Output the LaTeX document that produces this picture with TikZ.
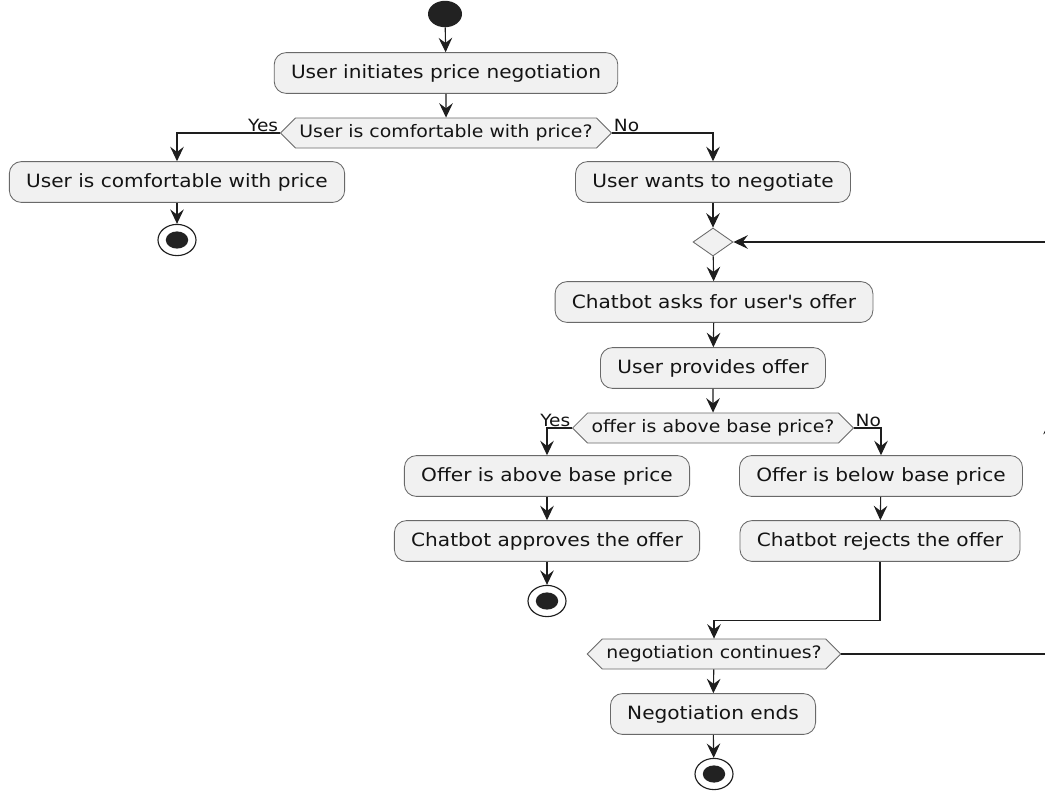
\documentclass[tikz,border=0pt]{standalone}
\usepackage{fontspec}
\setmainfont{DejaVu Sans}[FakeStretch=1.1]
\usetikzlibrary{arrows.meta, shapes.geometric, shapes.symbols, positioning}

\definecolor{actfill}{RGB}{241,241,241}
\definecolor{actstroke}{RGB}{105,105,105}
\definecolor{flowline}{RGB}{30,30,30}
\definecolor{dotfill}{RGB}{34,34,34}
\definecolor{textdark}{RGB}{20,20,20}

\tikzset{
  action/.style={
    rectangle, rounded corners=0.3cm,
    minimum height=1.02cm, inner xsep=0.42cm,
    draw=actstroke, fill=actfill, line width=0.6pt,
    text=textdark, font=\fontsize{13}{15}\selectfont
  },
  decision/.style={
    signal, signal to=west and east,
    minimum height=0.75cm, inner xsep=0.1cm,
    draw=actstroke, fill=actfill, line width=0.6pt,
    text=textdark, font=\fontsize{12.2}{14}\selectfont
  },
  merge/.style={diamond, draw=actstroke, fill=actfill, line width=0.6pt,
    minimum width=1cm, minimum height=0.7cm, inner sep=0pt},
  startdot/.style={ellipse, fill=dotfill, minimum width=0.85cm, minimum height=0.66cm, inner sep=0pt},
  enddot/.style={ellipse, draw=flowline, fill=white, line width=0.8pt,
    minimum width=0.95cm, minimum height=0.78cm, inner sep=0pt,
    path picture={\fill[dotfill] (path picture bounding box.center) ellipse (0.28cm and 0.215cm);}},
  branch/.style={font=\fontsize{12}{14}\selectfont, text=textdark, inner sep=1pt},
  arrow/.style={-{Stealth[length=0.36cm,width=0.34cm,inset=0.13cm]}, line width=0.8pt, color=flowline},
  flow/.style={line width=0.8pt, color=flowline},
}

\begin{document}
\begin{tikzpicture}[x=0.025cm, y=-0.025cm]

\fill[white] (0,0) rectangle (1045,791);
\useasboundingbox (0,0) rectangle (1045,791);

%% ─── START ─────────────────────────────────────────────────
\node[startdot] (start) at (445,14) {};
\node[action] (initiate) at (446,73) {User initiates price negotiation};
\node[decision] (comfort) at (446,133) {User is comfortable with price?};

%% ─── YES / NO ───────────────────────────────────────────────
\node[action] (happy) at (177,182) {User is comfortable with price};
\node[enddot] (end1) at (177,240) {};

\node[action] (wants) at (713,182) {User wants to negotiate};
\node[merge] (loop) at (713,242) {};

%% ─── OFFER ─────────────────────────────────────────────────
\node[action] (asks) at (714,302) {Chatbot asks for user\textquotesingle s offer};
\node[action] (provides) at (713,368) {User provides offer};
\node[decision] (above) at (713,428) {offer is above base price?};

\node[action] (isabove) at (547,476) {Offer is above base price};
\node[action] (approves) at (547,541) {Chatbot approves the offer};
\node[enddot] (end2) at (547,601) {};

\node[action] (isbelow) at (881,476) {Offer is below base price};
\node[action] (rejects) at (880,541) {Chatbot rejects the offer};

%% ─── CONTINUE? ─────────────────────────────────────────────
\node[decision] (continues) at (714,654) {negotiation continues?};
\node[action] (ends) at (713,714) {Negotiation ends};
\node[enddot] (end3) at (714,774) {};

%% branch labels
\node[branch, anchor=south east] (yes1) at (comfort.west) {Yes};
\node[branch, anchor=south west] (no1) at (comfort.east) {No};
\node[branch, anchor=south east] (yes2) at (above.west) {Yes};
\node[branch, anchor=south west] (no2) at (above.east) {No};

%% back loop coordinates
\coordinate (backmid) at (1050,420);
\coordinate (backtop) at (1050,242);

%% ─── ARROWS ─────────────────────────────────────────────────
\draw[arrow] (start) -- (initiate);
\draw[arrow] (initiate) -- (comfort);
\draw[arrow] (comfort.west) -| (happy.north);
\draw[arrow] (comfort.east) -| (wants.north);
\draw[arrow] (happy) -- (end1);
\draw[arrow] (wants) -- (loop);
\draw[arrow] (loop) -- (asks);
\draw[arrow] (asks) -- (provides);
\draw[arrow] (provides) -- (above);
\draw[arrow] (above.west) -| (isabove.north);
\draw[arrow] (above.east) -| (isbelow.north);
\draw[arrow] (isabove) -- (approves);
\draw[arrow] (approves) -- (end2);
\draw[arrow] (isbelow) -- (rejects);
\draw[arrow] (rejects.south) -- ++(0,59) -| (continues.north);
\draw[arrow] (continues) -- (ends);
\draw[arrow] (ends) -- (end3);
\draw[arrow] (continues.east) -| (backmid);
\draw[flow] (backmid) -- (backtop);
\draw[arrow] (backtop) -- (loop.east);

\end{tikzpicture}
\end{document}
